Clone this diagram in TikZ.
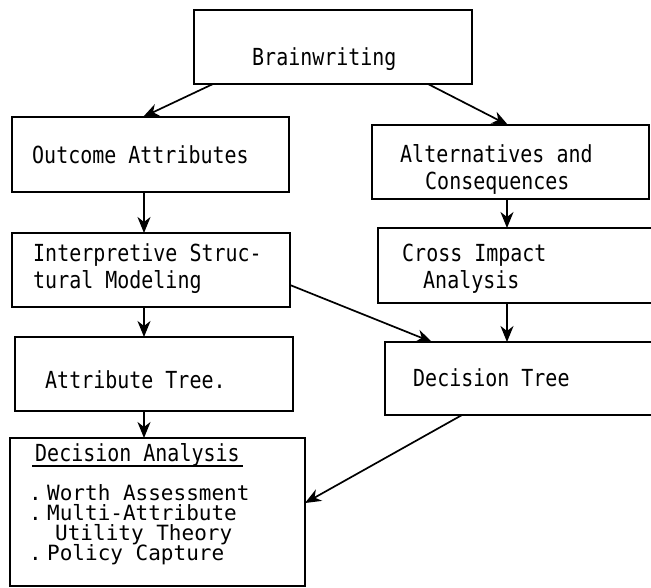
\documentclass[tikz,border=0pt]{standalone}
\usepackage{fontspec}
\newfontfamily\tw[FakeStretch=0.85]{DejaVu Sans Mono}
\newfontfamily\twlist{DejaVu Sans Mono}
\usetikzlibrary{arrows.meta,calc}
\begin{document}
% let tightly set list lines sit at their baseline distance
\lineskiplimit=-100pt\relax
\begin{tikzpicture}[x=1pt,y=-1pt,
  box/.style={draw, rectangle, line width=1.5pt, outer sep=0pt, inner sep=0pt},
  lbl/.style={anchor=base west, inner sep=0pt, font=\tw\fontsize{23.5}{27}\selectfont},
  listlbl/.style={lbl, align=left, font=\twlist\fontsize{21}{20}\selectfont},
  flow/.style={line width=1.7pt, -{Stealth[length=16pt,width=13pt,inset=5pt]}}]
\clip (0,0) rectangle (651,588);
\fill[white] (0,0) rectangle (651,588);

% boxes
\node[box, minimum width=278pt, minimum height=74pt]  (bw)  at (333,47)    {};
\node[box, minimum width=277pt, minimum height=75pt]  (oa)  at (150.5,154.5) {};
\node[box, minimum width=277pt, minimum height=74pt]  (ac)  at (510.5,162) {};
\node[box, minimum width=278pt, minimum height=74pt]  (ism) at (151,270)   {};
\node[box, minimum width=292pt, minimum height=75pt]  (cia) at (524,265.5) {};
\node[box, minimum width=278pt, minimum height=74pt]  (at)  at (154,374)   {};
\node[box, minimum width=285pt, minimum height=73pt]  (dt)  at (527.5,378.5) {};
\node[box, minimum width=295pt, minimum height=148pt] (da)  at (157.5,512) {};

% labels (multi-line labels are placed by the baseline of their last line)
\node[lbl] (tbw)  at (252,66)  {Brainwriting};
\node[lbl] (toa)  at (32,164)  {Outcome Attributes};
\node[lbl, align=left] (tac) at (400,190) {Alternatives and\\\hspace*{25pt}Consequences};
\node[lbl, align=left] (tis) at (33,288)  {Interpretive Struc-\\tural Modeling};
\node[lbl, align=left] (tci) at (402,288) {Cross Impact\\\hspace*{21pt}Analysis};
\node[lbl] (tat)  at (45,388)  {Attribute Tree.};
\node[lbl] (tdt)  at (413,386) {Decision Tree};
\node[lbl] (tda)  at (35,461)  {Decision Analysis};
\draw[line width=1.2pt] (tda.base west) ++(-3,5) -- ++(211,0);
\node[listlbl] (tdl) at (29,560)
  {\makebox[18pt][l]{.}Worth Assessment\\
   \makebox[18pt][l]{.}Multi-Attribute\\
   \hspace*{26pt}Utility Theory\\
   \makebox[18pt][l]{.}Policy Capture};

% connectors
\draw[flow] (bw.south -| 213,0) -- (oa.north -| 143,0);
\draw[flow] (bw.south -| 428,0) -- (ac.north -| 508,0);
\draw[flow] (oa.south -| 144,0) -- (ism.north -| 144,0);
\draw[flow] (ac.south -| 507,0) -- (cia.north -| 507,0);
\draw[flow] (ism.south -| 144,0) -- (at.north -| 144,0);
\draw[flow] (cia.south -| 507,0) -- (dt.north -| 507,0);
\draw[flow] (ism.east |- 0,285) -- (dt.north -| 432,0);
\draw[flow] (at.south -| 144,0) -- (da.north -| 144,0);
\draw[flow] (dt.south -| 462,0) -- (da.east |- 0,503);
\end{tikzpicture}
\end{document}
